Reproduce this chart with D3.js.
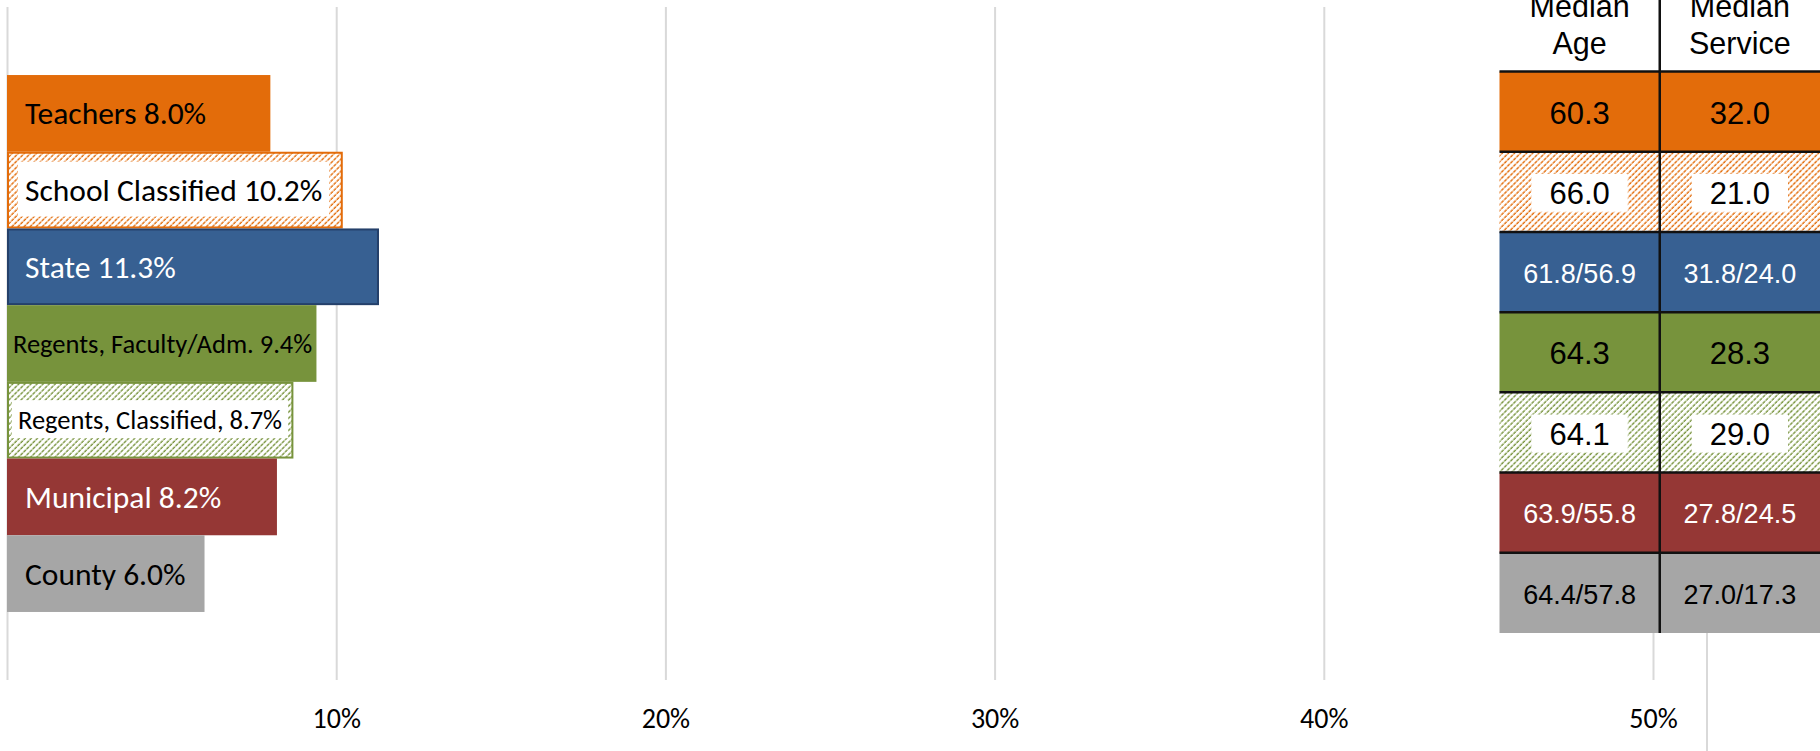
<!DOCTYPE html>
<html>
<head>
<meta charset="utf-8">
<script src="https://cdn.jsdelivr.net/npm/d3@7"></script>
<style>
  html, body { margin: 0; padding: 0; background: #fff; }
  svg { display: block; }
</style>
</head>
<body>
<svg id="chart" width="1820" height="751"></svg>
<script>
// ---- data ----
const categories = ["Teachers", "School Classified", "State", "Regents, Faculty/Adm.",
                    "Regents, Classified,", "Municipal", "County"];
const retireRates = [8.0, 10.2, 11.3, 9.4, 8.7, 8.2, 6.0];
const medianAge = ["60.3", "66.0", "61.8/56.9", "64.3", "64.1", "63.9/55.8", "64.4/57.8"];
const medianService = ["32.0", "21.0", "31.8/24.0", "28.3", "29.0", "27.8/24.5", "27.0/17.3"];
const xTicks = [0, 10, 20, 30, 40, 50];
const tableColumns = ["Median Age", "Median Service"];

// ---- styles ----
const fillColors = ["#E36C0A", "#E36C0A", "#376092", "#77933C", "#77933C", "#953735", "#A6A6A6"];
const strokeColors = [null, "#E36C0A", "#24406A", null, "#77933C", null, null];
const hatched = [false, true, false, false, true, false, false];
const textColors = ["#000", "#000", "#fff", "#000", "#000", "#fff", "#000"];
const labelSmall = [false, false, false, true, true, false, false];
const labelInset = [18, 18, 18, 6, 11, 18, 18];
const calibriLike = "Carlito, Lato, 'Open Sans', sans-serif";
const arialLike = "'Liberation Sans', Arial, sans-serif";

const svg = d3.select("#chart");
svg.append("rect").attr("width", 1820).attr("height", 751).attr("fill", "#fff");

// diagonal hatch patterns for the "classified" groups
const defs = svg.append("defs");
function hatch(id, color) {
  const p = defs.append("pattern")
    .attr("id", id)
    .attr("patternUnits", "userSpaceOnUse")
    .attr("width", 4.3).attr("height", 4.3)
    .attr("patternTransform", "rotate(45)");
  p.append("rect").attr("width", 4.3).attr("height", 4.3).attr("fill", "#fff");
  p.append("line").attr("x1", 1).attr("y1", 0).attr("x2", 1).attr("y2", 4.3)
    .attr("stroke", color).attr("stroke-width", 1.4).attr("stroke-dasharray", "2.2,0.9");
}
hatch("hatch-orange", "#E36C0A");
hatch("hatch-green", "#77933C");
const fillFor = i => hatched[i] ? (fillColors[i] === "#E36C0A" ? "url(#hatch-orange)" : "url(#hatch-green)") : fillColors[i];

// ---- scales ----
const x = d3.scaleLinear().domain([0, 50]).range([7, 1653]);
const y = d3.scaleBand().domain(categories).range([7, 680]).paddingInner(0).paddingOuter(0.887);

// ---- axis with gridlines ----
const axis = d3.axisBottom(x)
  .tickValues(xTicks)
  .tickFormat(d => d === 0 ? "" : d + "%")
  .tickSizeInner(-(680 - 7))
  .tickSizeOuter(0)
  .tickPadding(28);
const gAxis = svg.append("g").attr("transform", "translate(0,680)").call(axis);
gAxis.select(".domain").remove();
gAxis.selectAll(".tick line").attr("stroke", "#D9D9D9").attr("stroke-width", 2);
gAxis.selectAll(".tick text")
  .attr("font-family", calibriLike).attr("font-size", 28).attr("fill", "#000");

// ---- bars ----
const rows = categories.map((c, i) => ({ c, i, v: retireRates[i] }));
const gBars = svg.append("g");
gBars.selectAll("rect.bar").data(rows).join("rect")
  .attr("class", "bar")
  .attr("x", d => x(0) + (strokeColors[d.i] ? 1 : 0))
  .attr("y", d => y(d.c) + (strokeColors[d.i] ? 1 : 0))
  .attr("width", d => x(d.v) - x(0) - (strokeColors[d.i] ? 2 : 0))
  .attr("height", d => y.bandwidth() - (strokeColors[d.i] ? 2 : 0))
  .attr("fill", d => fillFor(d.i))
  .attr("stroke", d => strokeColors[d.i] || "none")
  .attr("stroke-width", 2);

// bar labels: name followed by the rate
const fmt = d3.format(".1f");
const gLabels = gBars.append("g");
gLabels.selectAll("text").data(rows).join("text")
  .attr("x", d => x(0) + labelInset[d.i])
  .attr("y", d => y(d.c) + y.bandwidth() / 2)
  .attr("dy", "0.35em")
  .attr("font-family", calibriLike)
  .attr("font-size", d => labelSmall[d.i] ? 26.5 : 31.5)
  .attr("fill", d => textColors[d.i])
  .text(d => d.c + " " + fmt(d.v) + "%");

// white panels behind labels on hatched bars
gLabels.selectAll("text").each(function (d) {
  if (!hatched[d.i]) return;
  const b = this.getBBox();
  const padX = labelSmall[d.i] ? 6 : 7;
  const h = labelSmall[d.i] ? 38 : 55;
  gLabels.insert("rect", "text")
    .attr("x", b.x - padX).attr("width", b.width + 2 * padX)
    .attr("y", y(d.c) + y.bandwidth() / 2 - h / 2 - 1).attr("height", h)
    .attr("fill", "#fff");
});

// ---- table of medians ----
const colX = d3.scaleBand().domain(tableColumns).range([1499.5, 1820]);
const rowY = d3.scaleBand().domain(categories).range([71.5, 633]);
const gTable = svg.append("g");

// faint rule under the table
gTable.append("line")
  .attr("x1", 1707).attr("x2", 1707).attr("y1", 633).attr("y2", 751)
  .attr("stroke", "#D9D9D9").attr("stroke-width", 2);

// header cells
gTable.append("rect").attr("x", colX.range()[0]).attr("y", 0)
  .attr("width", 1820 - colX.range()[0]).attr("height", rowY.range()[0]).attr("fill", "#fff");
tableColumns.forEach(col => {
  const words = col.split(" ");
  const cx = colX(col) + colX.bandwidth() / 2;
  const t = gTable.append("text")
    .attr("x", cx)
    .attr("text-anchor", "middle")
    .attr("font-family", arialLike).attr("font-size", 30.5).attr("fill", "#000");
  t.append("tspan").attr("x", cx).attr("y", 17).text(words[0]);
  t.append("tspan").attr("x", cx).attr("y", 54).text(words[1]);
});

const cells = [];
rows.forEach(r => {
  cells.push({ r, col: tableColumns[0], val: medianAge[r.i] });
  cells.push({ r, col: tableColumns[1], val: medianService[r.i] });
});

gTable.selectAll("rect.cell").data(cells).join("rect")
  .attr("class", "cell")
  .attr("x", d => colX(d.col)).attr("y", d => rowY(d.r.c))
  .attr("width", colX.bandwidth()).attr("height", rowY.bandwidth())
  .attr("fill", d => fillFor(d.r.i));

const cellText = gTable.selectAll("text.cell").data(cells).join("text")
  .attr("class", "cell")
  .attr("x", d => colX(d.col) + colX.bandwidth() / 2)
  .attr("y", d => rowY(d.r.c) + rowY.bandwidth() / 2 + 1)
  .attr("dy", "0.36em")
  .attr("text-anchor", "middle")
  .attr("font-family", arialLike)
  .attr("font-size", d => d.val.includes("/") ? 27 : 31)
  .attr("fill", d => textColors[d.r.i])
  .text(d => d.val);

cellText.each(function (d) {
  if (!hatched[d.r.i]) return;
  const b = this.getBBox();
  gTable.insert("rect", "text.cell")
    .attr("x", b.x - 18).attr("width", b.width + 36)
    .attr("y", rowY(d.r.c) + rowY.bandwidth() / 2 - 18).attr("height", 38)
    .attr("fill", "#fff");
});

// grid rules of the table
gTable.selectAll("line.row").data(categories).join("line")
  .attr("class", "row")
  .attr("x1", colX.range()[0]).attr("x2", 1820)
  .attr("y1", d => rowY(d)).attr("y2", d => rowY(d))
  .attr("stroke", "#111").attr("stroke-width", 2.5);
gTable.append("line")
  .attr("x1", colX(tableColumns[1])).attr("x2", colX(tableColumns[1]))
  .attr("y1", 0).attr("y2", rowY.range()[1])
  .attr("stroke", "#111").attr("stroke-width", 2.5);
</script>
</body>
</html>
